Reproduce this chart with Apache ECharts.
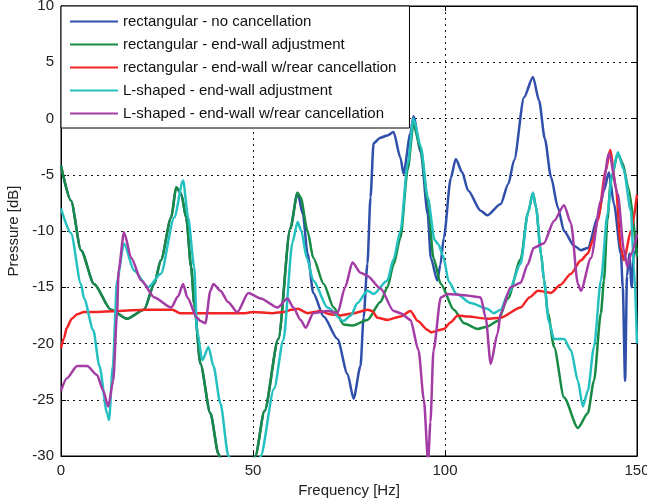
<!DOCTYPE html>
<html>
<head>
<meta charset="utf-8">
<script src="https://cdn.jsdelivr.net/npm/echarts@6/dist/echarts.min.js"></script>
<style>
html,body{margin:0;padding:0;background:#fff;}
#chart{width:647px;height:502px;}
</style>
</head>
<body>
<div id="chart"></div>
<script>
// ---- Data (frequency in Hz, pressure in dB) ----
const seriesNames = [
  'rectangular - no cancellation',
  'rectangular - end-wall adjustment',
  'rectangular - end-wall w/rear cancellation',
  'L-shaped - end-wall adjustment',
  'L-shaped - end-wall w/rear cancellation'
];

const blueFreq = [0, 2.6, 5.2, 8.6, 13, 17.2, 21.6, 24.3, 26, 28.7, 30, 31.3, 32.6, 33.9, 34.7, 36.3, 38.9, 41, 43, 48, 50.6, 53, 56.6, 59.7, 61.6, 63, 64.2, 65.7, 68.4, 72, 74.6, 76.2, 78, 78.8, 79.8, 80.6, 81.4, 83.2, 85, 86.6, 88.4, 89.2, 91, 91.8, 93.7, 95.5, 96.3, 98, 98.8, 99.7, 101.5, 102.8, 104.5, 106, 109.3, 111, 114.5, 116.5, 118, 120.6, 122.9, 124.5, 126, 127.6, 129.4, 131, 133.6, 135.4, 137.2, 139.8, 141.4, 142.7, 144, 145.8, 146.3, 146.9, 147.4, 148, 148.6, 149.2, 150];
const blueDb   = [-4.2, -7.3, -11.7, -14.7, -17, -17.8, -17, -14.7, -12.6, -8.8, -6.1, -6.7, -8.8, -13.2, -16.5, -21.8, -26.2, -29.8, -33, -33, -30, -26, -19.6, -9.8, -6.6, -8.5, -12, -15.5, -17.6, -19.6, -22.7, -24.9, -22, -17.7, -12.9, -7, -2.2, -1.7, -1.5, -1.2, -3.5, -4.9, -1.3, 0.2, -3, -8.5, -12.4, -14.4, -13, -10.6, -5.3, -3.6, -4.8, -6.4, -8.2, -8.6, -7.6, -5.8, -3.7, 1.9, 3.7, 1.6, -1.8, -5.2, -7.9, -10, -11.3, -11.7, -11.5, -8.8, -6.4, -4.8, -7.6, -12, -15, -23.3, -14, -12, -15, -12, -11.5];

const greenFreq = [0, 2.6, 5.2, 8.6, 13, 17.2, 21.6, 24.3, 26, 28.7, 30, 31.3, 32.6, 33.9, 34.7, 36.3, 38.9, 41, 43, 48, 50.6, 53, 56.6, 59.7, 61.6, 62.4, 64.2, 65.7, 68.4, 71, 73.6, 76, 79.8, 83.2, 85, 86.6, 88.4, 90.3, 91.8, 93.7, 95.5, 97, 98.9, 102.3, 105, 108.5, 111, 113.7, 116.4, 119.7, 121.6, 122.9, 123.7, 125, 125.8, 126.8, 128.4, 131, 134.6, 137.2, 138.8, 140.6, 141.4, 142.3, 143.2, 145, 146.3, 147.7, 150];
const greenDb   = [-4.2, -7.3, -11.7, -14.7, -17, -17.8, -17, -14.7, -12.6, -8.8, -6.1, -6.7, -8.8, -13.2, -16.5, -21.8, -26.2, -29.8, -33, -33, -30, -26, -19.6, -9.8, -6.6, -7, -10, -12.4, -14.7, -16.8, -18.3, -18.4, -17.9, -16.3, -15, -13, -10.6, -4.5, -0.5, -2.8, -7.3, -12.4, -14.7, -17, -18.2, -18.7, -18.5, -18, -16, -12.5, -8.4, -6.6, -7.9, -12, -14.4, -17.3, -20.3, -24.8, -27.5, -26.2, -23.3, -17.3, -14.4, -9, -5.5, -3.1, -4, -6.1, -12.3];

const redFreq = [0, 0.8, 1.5, 2.8, 4.2, 6, 8.4, 15, 22, 29, 31, 36, 48, 50, 55, 58, 60, 61.6, 64.2, 67.6, 70, 72.8, 76.2, 79.8, 81, 82.4, 85, 88.4, 91, 92.9, 95.5, 96.3, 99.7, 101.5, 103.3, 106, 111, 114.5, 119.7, 122, 124.2, 127.6, 130, 132.8, 135.4, 137.2, 138.5, 139.8, 141.9, 143, 144.5, 145.8, 146.6, 148.4, 150];
const redDb   = [-20.4, -19.5, -18.6, -17.8, -17.4, -17.2, -17.2, -17.1, -17.0, -17.0, -17.3, -17.3, -17.3, -17.2, -17.3, -17.2, -17.0, -16.9, -17.3, -17.1, -17.4, -17.5, -17.3, -17.0, -17.1, -17.7, -17.9, -17.6, -17.1, -18, -18.8, -19, -18.7, -18.1, -17.5, -17.6, -17.8, -17.7, -16.8, -15.9, -15.3, -15.5, -14.8, -13.8, -12.6, -12, -10.8, -9, -4.6, -2.8, -6.1, -11.5, -12.6, -10, -6.8];

const cyanFreq = [0, 2.6, 5.2, 6, 8.4, 10, 12, 12.5, 13.5, 14.6, 16.4, 19, 22.7, 26, 29.5, 31.8, 33.1, 34.7, 35.4, 36.8, 38.4, 39.7, 41.5, 43.6, 46, 50, 52, 55.5, 57.9, 60.3, 61.6, 62.6, 64, 65.7, 69.4, 73.6, 75.5, 77.2, 79.8, 81.4, 85, 86.6, 88.4, 90.3, 91.8, 93.7, 95.5, 97.3, 98.3, 99.5, 101, 103, 106.7, 111, 112.7, 114.5, 116.4, 119.7, 121.6, 122.9, 123.7, 125, 125.8, 127, 128.4, 131, 132.8, 134.6, 135.9, 137.2, 138.8, 140.6, 142.3, 143.5, 145, 146.5, 148.4, 149.2, 150];
const cyanDb   = [-8, -10.2, -14.7, -16, -18.8, -22, -26.2, -26.8, -22, -14.4, -11.1, -13.5, -15, -13.8, -8.8, -5.5, -8.8, -13.2, -18.8, -21.5, -20.3, -22, -25.3, -30, -33, -33, -30, -24, -19.7, -11, -9.2, -10, -12.4, -14.4, -16.8, -18, -17.5, -16.4, -15.3, -15.6, -14.4, -12.5, -10, -4, 0, -2.5, -7, -10.8, -11.2, -12.2, -14.5, -15.6, -16.4, -16.9, -17.3, -17, -15.6, -12.9, -8.4, -6.6, -7.9, -12, -14.4, -18, -19.6, -19.6, -20.6, -23.3, -25.6, -24.2, -20.3, -14.4, -8.5, -5, -3, -4.5, -8.2, -13, -20];

const magentaFreq = [0, 1.5, 4.2, 6.8, 9.4, 11, 12.3, 13.6, 14.6, 15, 16.4, 18.3, 20.9, 24.3, 28.7, 30.5, 31.8, 32.9, 35.4, 36.3, 37.6, 38.9, 39.7, 41.5, 43.5, 45.9, 48.8, 52, 56.4, 59, 60.5, 62.4, 63.7, 65.7, 69.4, 72, 74, 75.9, 78, 79.8, 83.2, 86.6, 88.4, 91, 93.1, 94.5, 95.6, 96.2, 97, 98.9, 100.7, 105, 109.3, 110.6, 111.9, 113.7, 114.5, 117.1, 119.7, 121.5, 123.1, 125.7, 128.4, 131, 132.8, 134.6, 135.4, 138, 140.6, 142.7, 145, 146.6, 147.5, 148.5, 150];
const magentaDb   = [-24.2, -23.1, -22, -22, -22.8, -24.2, -25.6, -23.3, -17.3, -13.5, -10.1, -12.4, -14.4, -15.9, -16.8, -15.8, -14.7, -15.9, -17.7, -18, -18.2, -15.3, -14.7, -15.3, -16.3, -17.2, -15.5, -16, -16.8, -16, -16.8, -17.9, -18.6, -17.3, -17.1, -17.3, -15, -12.8, -13.7, -14, -15.1, -17.1, -17.3, -17.9, -20.6, -25, -30.5, -27, -20.6, -15.9, -15.6, -15.7, -15.9, -17.7, -21.8, -19.1, -17.3, -15, -14.6, -13, -11.5, -11.1, -9.1, -7.7, -9.3, -14.7, -15.3, -12.4, -7.3, -3.1, -6.7, -11.7, -13.2, -12, -10.3];

const xTicks = {min: 0, max: 150, interval: 50};
const yTicks = {min: -30, max: 10, interval: 5};

// ---- Build chart ----
const colors = ['#2f4fab', '#178a44', '#f22424', '#25c0c0', '#a43ca6'];
const freqs = [blueFreq, greenFreq, redFreq, cyanFreq, magentaFreq];
const dbs = [blueDb, greenDb, redDb, cyanDb, magentaDb];

function zip(a, b) { return a.map((v, i) => [v, b[i]]); }

const font = "'Liberation Sans', Arial, Helvetica, sans-serif";
const gridLine = {show: true, lineStyle: {type: [2, 4], color: '#111', width: 1}};

const chart = echarts.init(document.getElementById('chart'), null, {renderer: 'canvas'});
chart.setOption({
  animation: false,
  backgroundColor: '#fff',
  grid: {left: 61, right: 10, top: 6, bottom: 46, containLabel: false, outerBoundsMode: 'none',
         show: true, borderColor: '#000', borderWidth: 1, backgroundColor: 'transparent'},
  legend: {
    data: seriesNames,
    orient: 'vertical',
    left: 61, top: 6,
    padding: [8, 13, 7, 9],
    itemWidth: 48, itemHeight: 14, itemGap: 8,
    backgroundColor: '#fff', borderColor: '#000', borderWidth: 1,
    textStyle: {fontFamily: font, fontSize: 15, color: '#111'},
    icon: 'path://M0,6L48,6L48,8L0,8Z'
  },
  xAxis: [{
    type: 'value', min: xTicks.min, max: xTicks.max, interval: xTicks.interval,
    name: 'Frequency [Hz]', nameLocation: 'middle', nameGap: 27,
    nameTextStyle: {fontFamily: font, fontSize: 15, color: '#222'},
    axisLine: {show: true, onZero: false, lineStyle: {color: '#000'}},
    axisTick: {show: true, inside: true, length: 5, lineStyle: {color: '#000'}},
    axisLabel: {fontFamily: font, fontSize: 15, color: '#222', margin: 7},
    splitLine: gridLine
  }, {
    type: 'value', min: xTicks.min, max: xTicks.max, interval: xTicks.interval, position: 'top',
    axisLine: {show: true, onZero: false, lineStyle: {color: '#000'}},
    axisTick: {show: true, inside: true, length: 5, lineStyle: {color: '#000'}},
    axisLabel: {show: false}, splitLine: {show: false}
  }],
  yAxis: [{
    type: 'value', min: yTicks.min, max: yTicks.max, interval: yTicks.interval,
    name: 'Pressure [dB]', nameLocation: 'middle', nameGap: 38,
    nameTextStyle: {fontFamily: font, fontSize: 15, color: '#222'},
    axisLine: {show: true, onZero: false, lineStyle: {color: '#000'}},
    axisTick: {show: true, inside: true, length: 5, lineStyle: {color: '#000'}},
    axisLabel: {fontFamily: font, fontSize: 15, color: '#222', margin: 7},
    splitLine: gridLine
  }, {
    type: 'value', min: yTicks.min, max: yTicks.max, interval: yTicks.interval, position: 'right',
    axisLine: {show: true, onZero: false, lineStyle: {color: '#000'}},
    axisTick: {show: true, inside: true, length: 5, lineStyle: {color: '#000'}},
    axisLabel: {show: false}, splitLine: {show: false}
  }],
  series: seriesNames.map((name, i) => ({
    name: name,
    type: 'line',
    xAxisIndex: 0, yAxisIndex: 0,
    data: zip(freqs[i], dbs[i]),
    symbol: 'none',
    smooth: 0.25,
    smoothMonotone: 'x',
    clip: true,
    color: colors[i],
    lineStyle: {color: colors[i], width: 2.5},
    itemStyle: {color: colors[i]}
  }))
});
</script>
</body>
</html>
